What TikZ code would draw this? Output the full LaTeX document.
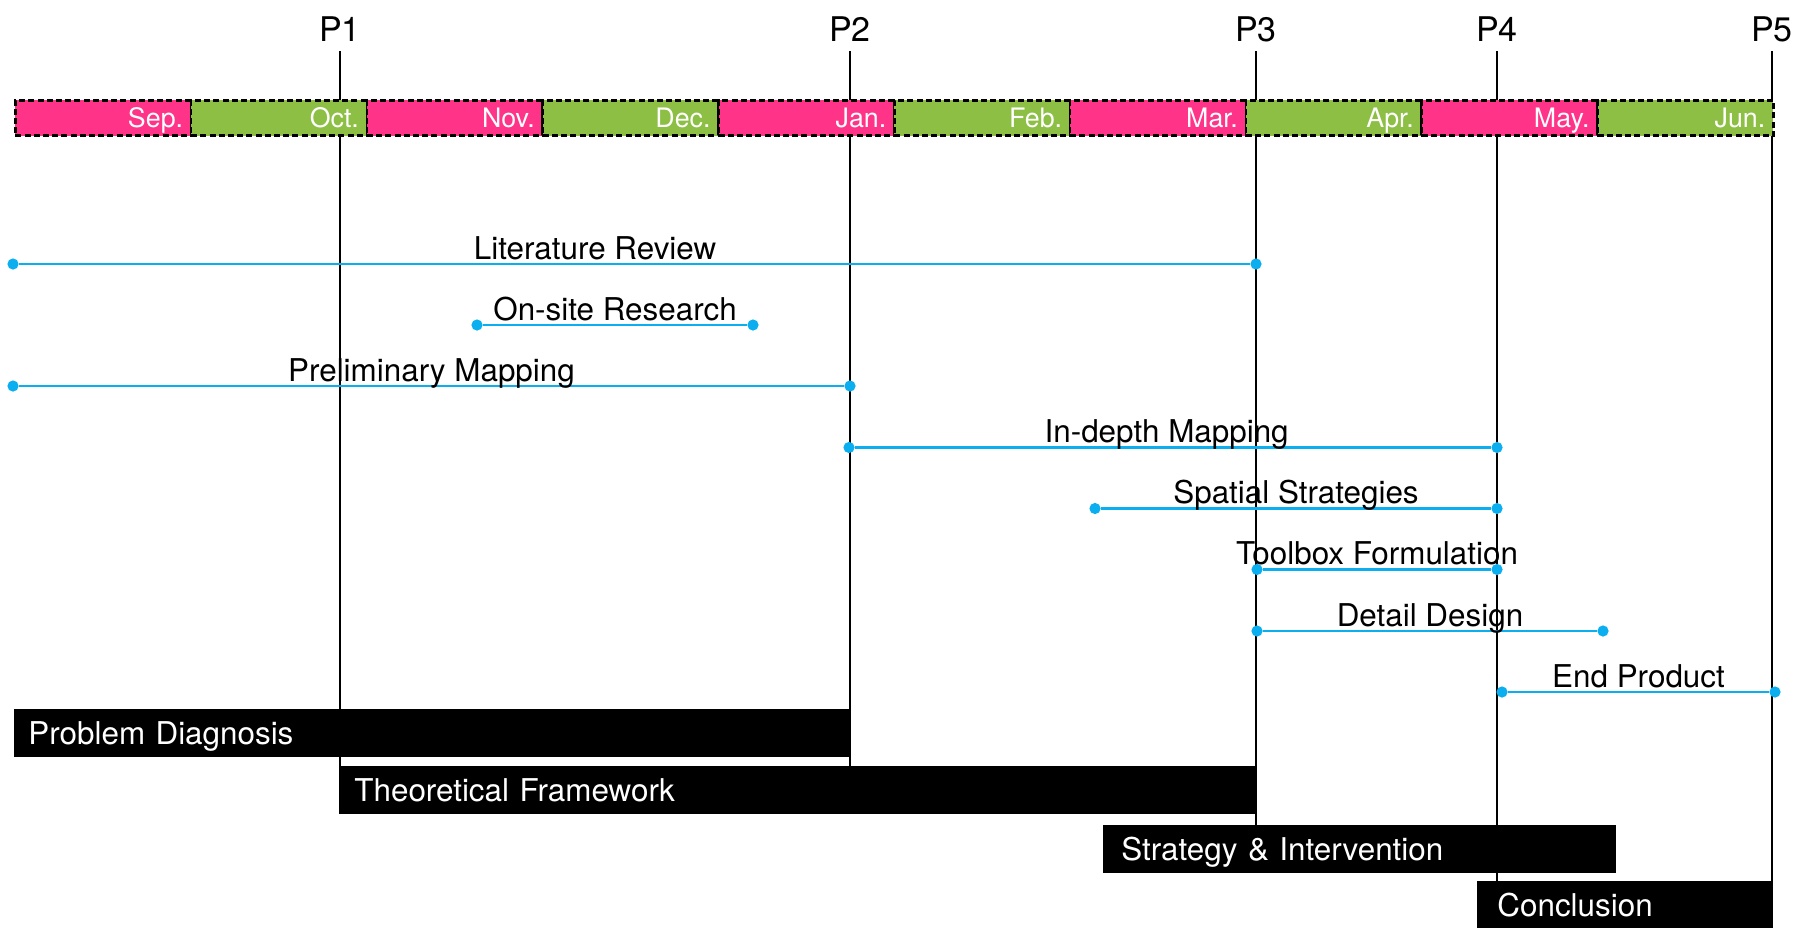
\documentclass[tikz,border=0pt]{standalone}
\usepackage{fontspec}
\setmainfont{TeX Gyre Heros}
\usepackage{tikz}
\definecolor{mpink}{HTML}{FF3388}
\definecolor{mgreen}{HTML}{8CBF44}
\definecolor{tblue}{HTML}{0BAEEF}

\begin{document}
\begin{tikzpicture}[x=0.5pt,y=-0.5pt]
\tikzstyle{plabel}=[anchor=base,inner xsep=0pt,inner ysep=5pt,text depth=0pt,font=\fontsize{17}{20}\selectfont]
\tikzstyle{phaseline}=[black,line width=1.1pt]
\tikzstyle{month}=[anchor=north west,draw=black,line width=1.3pt,dash pattern=on 3pt off 1.6pt,minimum width=87.9pt,minimum height=17.7pt,inner xsep=4pt,inner ysep=0pt,text width=79.9pt,align=right,text=white,text height=9.5pt,text depth=0pt,font=\fontsize{13.4}{15}\selectfont]
\tikzstyle{dot}=[circle,fill=tblue,inner sep=0pt,minimum size=5.6pt]
\tikzstyle{task}=[tblue,line width=1.35pt]
\tikzstyle{tasklabel}=[anchor=base,yshift=2.5pt,inner sep=0pt,text=black,font=\fontsize{15.7}{18}\selectfont]
\tikzstyle{phase}=[anchor=north west,fill=black,text=white,minimum height=23.75pt,inner xsep=7pt,inner ysep=0pt,text height=11.2pt,text depth=0pt,align=left,font=\fontsize{15.7}{18}\selectfont]
\useasboundingbox (0,0) rectangle (1805,927);
% milestones
\node[plabel] (p1) at (340,41) {P1};
\node[plabel] (p2) at (850,41) {P2};
\node[plabel] (p3) at (1256,41) {P3};
\node[plabel] (p4) at (1497,41) {P4};
\node[plabel] (p5) at (1772,41) {P5};
\coordinate (p1b) at (340,814);
\coordinate (p2b) at (850,766);
\coordinate (p3b) at (1256,825);
\coordinate (p4b) at (1497,881);
\coordinate (p5b) at (1772,927);
\draw[phaseline] (p1.south) -- (p1b);
\draw[phaseline] (p2.south) -- (p2b);
\draw[phaseline] (p3.south) -- (p3b);
\draw[phaseline] (p4.south) -- (p4b);
\draw[phaseline] (p5.south) -- (p5b);
% months
\node[month,fill=mpink] (sep) at (14,99) {Sep.};
\node[month,fill=mgreen] (oct) at (189.8,99) {Oct.};
\node[month,fill=mpink] (nov) at (365.6,99) {Nov.};
\node[month,fill=mgreen] (dec) at (541.4,99) {Dec.};
\node[month,fill=mpink] (jan) at (717.2,99) {Jan.};
\node[month,fill=mgreen] (feb) at (893,99) {Feb.};
\node[month,fill=mpink] (mar) at (1068.8,99) {Mar.};
\node[month,fill=mgreen] (apr) at (1244.6,99) {Apr.};
\node[month,fill=mpink] (may) at (1420.4,99) {May.};
\node[month,fill=mgreen] (jun) at (1596.2,99) {Jun.};
% tasks
\node[dot] (lr1) at (13,264) {};
\node[dot] (lr2) at (1256,264) {};
\node[dot] (osr1) at (477,325) {};
\node[dot] (osr2) at (753,325) {};
\node[dot] (pm1) at (13,386) {};
\node[dot] (pm2) at (850,386) {};
\node[dot] (idm1) at (849,447.5) {};
\node[dot] (idm2) at (1497,447.5) {};
\node[dot] (ss1) at (1095,508.5) {};
\node[dot] (ss2) at (1497,508.5) {};
\node[dot] (tf1) at (1257,569.5) {};
\node[dot] (tf2) at (1497,569.5) {};
\node[dot] (dd1) at (1257,631) {};
\node[dot] (dd2) at (1603,631) {};
\node[dot] (ep1) at (1502,692) {};
\node[dot] (ep2) at (1775,692) {};
\draw[task] (lr1) -- (lr2) node[tasklabel,pos=0.468] {Literature Review};
\draw[task] (osr1) -- (osr2) node[tasklabel,midway] {On-site Research};
\draw[task] (pm1) -- (pm2) node[tasklabel,midway] {Preliminary Mapping};
\draw[task] (idm1) -- (idm2) node[tasklabel,pos=0.49] {In-depth Mapping};
\draw[task] (ss1) -- (ss2) node[tasklabel,midway] {Spatial Strategies};
\draw[task] (tf1) -- (tf2) node[tasklabel,midway] {Toolbox Formulation};
\draw[task] (dd1) -- (dd2) node[tasklabel,midway] {Detail Design};
\draw[task] (ep1) -- (ep2) node[tasklabel,midway] {End Product};
% phases
\node[phase,text width=404pt] (pd) at (14,709) {Problem Diagnosis};
\node[phase,text width=444pt] (tfw) at (340,766) {Theoretical Framework};
\node[phase,inner xsep=9pt,text width=238.5pt] (si) at (1103,825) {Strategy \& Intervention};
\node[phase,inner xsep=10pt,text width=128pt] (con) at (1477,881) {Conclusion};
\end{tikzpicture}
\end{document}
